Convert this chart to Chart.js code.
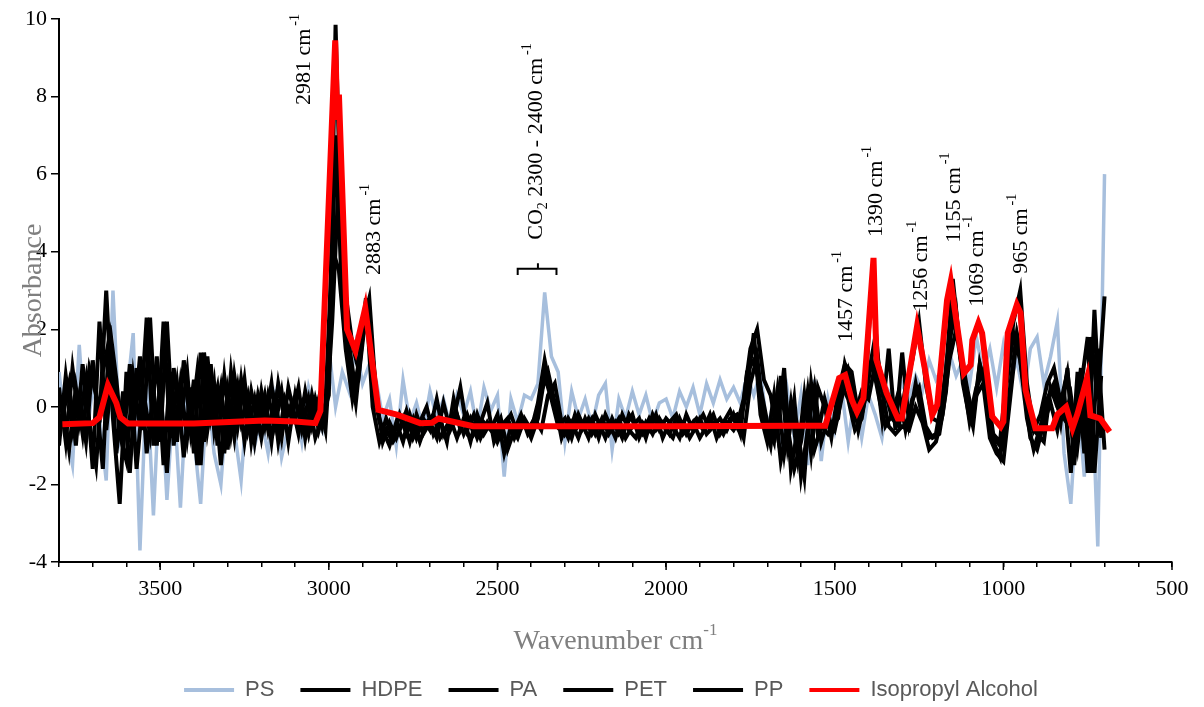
<!DOCTYPE html>
<html>
<head>
<meta charset="utf-8">
<script src="https://cdn.jsdelivr.net/npm/chart.js@4.4.0/dist/chart.umd.min.js"></script>
<style>
  html, body { margin: 0; padding: 0; background: #fff; }
</style>
</head>
<body>
<canvas id="ftirChart" width="1204" height="707"></canvas>
<script>
// wavenumber grids (cm-1)
const wavenumbersA = [
  3800, 3780, 3760, 3740, 3720, 3700, 3680, 3660, 3640, 3620,
  3600, 3580, 3560, 3540, 3520, 3500, 3480, 3460, 3440, 3420,
  3400, 3380, 3360, 3340, 3320, 3300, 3280, 3260, 3240, 3220,
  3200, 3180, 3160, 3140, 3120, 3100, 3080, 3060, 3040, 3020,
  3000, 2980, 2960, 2940, 2920, 2900, 2880, 2860, 2840, 2820,
  2800, 2780, 2760, 2740, 2720, 2700, 2680, 2660, 2640, 2620,
  2600, 2580, 2560, 2540, 2520, 2500, 2480, 2460, 2440, 2420,
  2400, 2380, 2360, 2340, 2320, 2300, 2280, 2260, 2240, 2220,
  2200, 2180, 2160, 2140, 2120, 2100, 2080, 2060, 2040, 2020,
  2000, 1980, 1960, 1940, 1920, 1900, 1880, 1860, 1840, 1820,
  1800, 1780, 1760, 1740, 1720, 1700, 1680, 1660, 1640, 1620,
  1600, 1580, 1560, 1540, 1520, 1500, 1480, 1460, 1440, 1420,
  1400, 1380, 1360, 1340, 1320, 1300, 1280, 1260, 1240, 1220,
  1200, 1180, 1160, 1140, 1120, 1100, 1080, 1060, 1040, 1020,
  1000, 980, 960, 940, 920, 900, 880, 860, 840, 820,
  800, 780, 760, 740, 720, 700
];
const wavenumbersB = [
  3790, 3770, 3750, 3730, 3710, 3690, 3670, 3650, 3630, 3610,
  3590, 3570, 3550, 3530, 3510, 3490, 3470, 3450, 3430, 3410,
  3390, 3370, 3350, 3330, 3310, 3290, 3270, 3250, 3230, 3210,
  3190, 3170, 3150, 3130, 3110, 3090, 3070, 3050, 3030, 3010,
  2990, 2970, 2950, 2930, 2910, 2890, 2870, 2850, 2830, 2810,
  2790, 2770, 2750, 2730, 2710, 2690, 2670, 2650, 2630, 2610,
  2590, 2570, 2550, 2530, 2510, 2490, 2470, 2450, 2430, 2410,
  2390, 2370, 2350, 2330, 2310, 2290, 2270, 2250, 2230, 2210,
  2190, 2170, 2150, 2130, 2110, 2090, 2070, 2050, 2030, 2010,
  1990, 1970, 1950, 1930, 1910, 1890, 1870, 1850, 1830, 1810,
  1790, 1770, 1750, 1730, 1710, 1690, 1670, 1650, 1630, 1610,
  1590, 1570, 1550, 1530, 1510, 1490, 1470, 1450, 1430, 1410,
  1390, 1370, 1350, 1330, 1310, 1290, 1270, 1250, 1230, 1210,
  1190, 1170, 1150, 1130, 1110, 1090, 1070, 1050, 1030, 1010,
  990, 970, 950, 930, 910, 890, 870, 850, 830, 810,
  790, 770, 750, 730, 710
];

// absorbance, grid A
const psAbs = [
  0.9, -0.6, -1.5, 1.6, -0.9, 0.5, -0.3, -1.9, 3.0, -0.8,
  0.2, 1.9, -3.7, 0.8, -2.8, 0.9, -2.4, 0.3, -2.6, 0.6,
  -0.8, -2.5, 0.5, -1.2, -2.0, 0.3, -0.6, -1.9, 0.4, -1.0,
  -0.3, -1.2, 0.2, -1.3, -0.5, 0.1, -0.9, 0.5, -0.2, -0.6,
  1.5, 0.0, 0.9, 0.4, 1.6, 0.6, 1.1, 0.7, -0.3, 0.2,
  -1.0, 0.7, -0.4, 0.1, -0.6, 0.4, -0.3, 0.2, -0.5, 0.3,
  -0.2, 0.4, -0.6, 0.5, -0.1, 0.3, -1.8, 0.2, -0.4, 0.3,
  0.2, 0.6, 2.95, 1.3, 0.9, -0.9, 0.4, -0.3, 0.2, -0.5,
  0.3, 0.6, -1.1, 0.2, -0.3, 0.4, -0.2, 0.3, -0.4, 0.1,
  0.2, -0.3, 0.4, 0.0, 0.5, -0.2, 0.6, 0.1, 0.7, 0.2,
  0.5, 0.1, 0.8, 0.3, 0.9, -0.6, 0.2, -1.2, 0.4, -0.8,
  0.3, -1.5, 0.7, -1.4, 0.2, -0.6, 0.5, -0.9, 0.3, -0.8,
  0.3, -0.2, -0.8, 0.4, 0.1, 0.6, 0.2, 0.8, 0.4, 1.2,
  0.7, 1.0, 1.4, 0.8, 1.2, 0.6, 1.8, 0.9, 1.5, 0.5,
  1.6, 0.7, 1.2, 0.3, 1.5, 1.8, 0.6, 1.3, 2.2, -1.2,
  -2.5, 0.3, -1.8, 1.2, -3.6, 6.0
];
const hdpeAbs = [
  -1.0, 0.8, -0.6, 0.3, -0.9, 1.2, -0.4, 3.0, -0.3, -2.5,
  0.9, -0.7, 1.3, -1.2, 0.4, -0.9, 2.2, -1.0, 0.6, -0.8,
  0.7, -1.5, 1.3, -0.6, 0.5, -1.1, 0.8, -0.4, 0.3, -0.9,
  0.4, -0.6, 0.2, -0.8, 0.5, -0.3, 0.1, -0.7, 0.2, -0.5,
  0.6, 9.85, 3.4, 1.6, 0.4, 2.1, 2.8, 0.3, -0.9, -0.4,
  -0.8, -0.3, -0.9, -0.2, -0.7, -0.4, -0.8, 0.1, -0.6, -0.2,
  -0.7, -0.3, -0.8, -0.4, -0.6, -0.2, -1.2, -0.5, -0.8, -0.3,
  -0.6, 0.1, 1.2, 0.3, -0.2, -0.7, -0.4, -0.8, -0.3, -0.7,
  -0.4, -0.8, -0.3, -0.7, -0.5, -0.2, -0.8, -0.4, -0.7, -0.3,
  -0.6, -0.8, -0.3, -0.7, -0.4, -0.8, -0.5, -0.2, -0.7, -0.4,
  -0.6, -0.3, 0.4, 1.9, -0.2, -0.9, 0.3, -1.4, -0.5, -1.6,
  -0.9, 0.4, -1.1, -0.5, -0.7, -0.4, 0.6, 0.2, -0.6, -0.3,
  0.8, 1.8, 0.4, -0.5, -0.7, -0.5, -0.6, 0.0, -0.4, -1.1,
  -0.9, -0.2, 1.2, 2.0, 0.8, -0.4, 0.3, 0.6, -0.8, -1.2,
  -1.4, 0.2, 1.8, 0.6, -0.8, -1.1, -0.4, 0.1, -0.6, 0.4,
  -1.7, 0.9, -1.2, 1.8, 0.2, 2.85
];
const petAbs = [
  0.5, -0.9, 1.0, -0.4, 0.7, -1.6, 2.2, -0.6, 1.1, -0.7,
  -1.4, 0.8, -0.5, 2.3, -1.0, 0.5, -1.7, 1.0, -0.4, 0.9,
  -1.2, 1.4, -0.6, 0.6, -1.5, 0.4, -0.8, 0.7, -0.6, 0.2,
  -0.8, 0.3, -0.5, 0.4, -0.9, 0.3, -0.6, 0.2, -0.8, -0.3,
  0.3, 7.0, 2.7, 1.2, 0.1, 1.8, 2.5, 0.0, -0.6, -1.0,
  -0.4, -0.9, -0.2, -0.8, -0.3, -0.6, 0.2, -0.7, -0.3, -0.8,
  -0.3, -0.9, -0.2, -0.7, -0.4, -0.9, -0.5, -0.2, -0.7, -0.4,
  -0.8, -0.3, 0.8, 0.2, -0.5, -0.3, -0.8, -0.2, -0.6, -0.3,
  -0.8, -0.2, -0.6, -0.3, -0.8, -0.5, -0.3, -0.8, -0.2, -0.6,
  -0.3, -0.5, -0.8, -0.2, -0.6, -0.3, -0.7, -0.5, -0.3, -0.6,
  -0.2, -0.7, 0.9, 1.2, 0.5, -0.4, -0.9, 0.8, -1.0, 0.2,
  -1.8, -0.6, 0.5, -0.9, -0.3, -0.6, 0.2, 0.9, -0.2, 0.4,
  0.2, 1.1, -0.3, 1.5, -0.6, 1.4, -0.4, 0.6, -0.3, -0.8,
  -0.7, 0.3, 1.7, 2.5, 0.6, -0.3, 0.5, 0.9, -0.6, -0.9,
  -1.1, 0.5, 1.9, 1.1, -0.5, -0.7, -0.9, 0.5, 0.0, -0.3,
  0.3, -1.0, 0.6, -1.7, 1.5, -1.1
];

// absorbance, grid B
const paAbs = [
  -0.3, 0.6, -1.0, 1.1, -0.4, -1.5, 0.9, 1.8, -1.2, 0.4,
  -1.7, 1.0, -0.6, 2.3, -1.0, 2.2, -0.8, 0.6, -1.3, 0.5,
  -1.5, 1.4, -0.3, 0.5, -1.2, 0.9, -0.5, 0.7, -0.9, 0.3,
  -0.5, 0.6, -0.9, 0.2, -0.3, 0.5, -0.8, 0.3, -0.6, 0.1,
  4.1, 3.5, 1.5, 0.2, 1.2, 2.8, 0.0, -0.9, -0.3, -0.8,
  -0.2, -0.7, -0.3, -0.9, -0.4, -0.2, -0.8, -0.5, -0.3, 0.5,
  -0.6, -0.2, -0.8, -0.4, -0.7, -0.3, -1.1, -0.6, -0.2, -0.7,
  -0.4, 0.4, 0.9, 0.1, -0.8, -0.3, -0.6, -0.4, -0.8, -0.2,
  -0.6, -0.4, -0.8, -0.2, -0.6, -0.8, -0.4, -0.6, -0.2, -0.8,
  -0.4, -0.2, -0.7, -0.5, -0.3, -0.6, -0.2, -0.8, -0.4, -0.1,
  -0.5, 0.2, 1.5, 2.0, 0.7, 0.3, -0.7, 1.0, -1.6, -0.6,
  -1.8, 0.6, -0.7, 0.2, -0.5, -0.3, 1.1, 0.5, -0.6, 0.2,
  1.2, 0.3, -0.5, -0.2, 0.4, -0.6, 0.2, 0.5, -0.5, -0.8,
  -0.7, 0.4, 2.6, 1.5, 0.2, -0.5, 1.1, 0.3, -0.9, -1.3,
  0.6, 1.9, 1.2, -0.3, -1.1, -0.5, 0.2, 0.6, -0.4, 1.0,
  -1.5, 0.5, 1.8, -1.7, 0.8
];
const ppAbs = [
  0.2, -1.1, 0.5, -0.7, 1.0, 0.3, -1.6, 2.1, 0.7, -1.1,
  1.1, -1.6, 0.4, -0.7, 1.3, -1.5, 0.9, -0.9, 1.2, -0.6,
  0.9, -0.9, 1.1, -1.0, 0.8, -0.7, 0.5, -0.9, 0.4, -0.5,
  0.3, -0.9, 0.6, -0.4, 0.1, -0.7, 0.4, -0.5, 0.2, -0.6,
  2.2, 6.0, 2.9, 1.6, 0.9, 2.4, 1.3, -0.4, -0.6, -0.9,
  -0.6, -0.1, -0.8, -0.4, 0.0, -0.7, -0.3, -0.9, 0.2, -0.6,
  -0.2, -0.7, -0.4, 0.1, -0.9, -0.5, -0.3, -0.8, -0.4, -0.6,
  -0.3, -0.6, 0.3, 0.6, -0.4, -0.8, -0.2, -0.6, -0.3, -0.7,
  -0.3, -0.7, -0.4, -0.8, -0.2, -0.5, -0.7, -0.3, -0.6, -0.4,
  -0.7, -0.3, -0.4, -0.8, -0.5, -0.2, -0.6, -0.4, -0.7, -0.3,
  -0.2, -0.8, 0.6, 1.3, -0.3, -1.0, 0.4, -1.2, 0.1, -1.3,
  0.3, -1.2, 0.5, 0.0, -0.8, 0.4, 1.1, 0.9, -0.2, 0.3,
  3.2, 1.1, 0.4, -0.3, -0.5, 0.5, 1.2, 2.2, 0.6, -0.3,
  -0.4, 0.9, 3.3, 1.6, 0.6, -0.3, 1.1, 0.5, -0.7, -0.9,
  0.8, 2.2, 3.0, 0.6, -0.6, -0.2, 0.6, 1.0, 0.1, 0.9,
  -0.6, 1.0, -1.7, 2.5, -0.8
];

// isopropyl alcohol
const ipaWavenumbers = [
  3790, 3700, 3680, 3655, 3630, 3618, 3595, 3400, 3190, 3100,
  3040, 3025, 2981, 2975, 2970, 2946, 2921, 2892, 2872, 2853,
  2798, 2729, 2694, 2675, 2572, 2000, 1600, 1528, 1487, 1469,
  1449, 1434, 1415, 1401, 1385, 1376, 1346, 1313, 1301, 1256,
  1231, 1211, 1196, 1167, 1156, 1117, 1097, 1092, 1074, 1063,
  1033, 1008, 1000, 987, 960, 949, 934, 905, 855, 840,
  814, 795, 780, 752, 742, 713, 685
];
const ipaAbs = [
  -0.45, -0.42, -0.27, 0.56, 0.1, -0.27, -0.43, -0.43, -0.35, -0.38,
  -0.42, -0.1, 9.45, 7.4, 8.05, 2.0, 1.45, 2.55, 1.2, -0.08,
  -0.2, -0.42, -0.41, -0.3, -0.5, -0.5, -0.49, -0.49, 0.74, 0.82,
  0.17, -0.13, 0.22, 1.9, 3.84, 1.2, 0.35, -0.3, -0.3, 2.07,
  0.9, -0.21, 0.05, 2.75, 3.23, 0.87, 1.08, 1.72, 2.16, 1.9,
  -0.25, -0.51, -0.38, 1.9, 2.63, 2.42, 0.43, -0.55, -0.55, -0.2,
  0.0, -0.55, -0.17, 0.74, -0.22, -0.3, -0.64
];

const seriesNames = ['PS', 'HDPE', 'PA', 'PET', 'PP', 'Isopropyl Alcohol'];
const xTickLabels = [3500, 3000, 2500, 2000, 1500, 1000, 500];

// peak annotations: text parts, anchored at a wavenumber / absorbance
const peakLabelParts = [
  [{ t: '2981 cm' }, { t: '-1', sup: true }],
  [{ t: '2883 cm' }, { t: '-1', sup: true }],
  [{ t: 'CO' }, { t: '2', sub: true }, { t: ' 2300 - 2400 cm' }, { t: '-1', sup: true }],
  [{ t: '1457 cm' }, { t: '-1', sup: true }],
  [{ t: '1390 cm' }, { t: '-1', sup: true }],
  [{ t: '1256 cm' }, { t: '-1', sup: true }],
  [{ t: '1155 cm' }, { t: '-1', sup: true }],
  [{ t: '1069 cm' }, { t: '-1', sup: true }],
  [{ t: '965 cm' }, { t: '-1', sup: true }]
];
const peakLabelWn = [3055, 2847, 2367, 1448, 1359, 1226, 1128, 1060, 929];
const peakLabelAbs = [7.78, 3.40, 4.31, 1.67, 4.38, 2.45, 4.23, 2.58, 3.43];

const SERIF = '"Liberation Serif", "Times New Roman", serif';
const SANS = '"Liberation Sans Narrow", "Arial Narrow", "Liberation Sans", sans-serif';

function toPoints(xs, ys) {
  return ys.map((v, i) => ({ x: xs[i], y: v }));
}

function drawRotated(ctx, px, py, parts) {
  ctx.save();
  ctx.translate(px, py);
  ctx.rotate(-Math.PI / 2);
  ctx.textAlign = 'left';
  ctx.textBaseline = 'alphabetic';
  let cx = 0;
  parts.forEach(p => {
    const small = p.sup || p.sub;
    ctx.font = (small ? 14 : 22) + 'px ' + SERIF;
    const dy = p.sup ? -11 : (p.sub ? 5 : 0);
    ctx.fillText(p.t, cx + (p.sup ? 3 : 0), dy);
    cx += ctx.measureText(p.t).width;
  });
  ctx.restore();
}

const extrasPlugin = {
  id: 'extras',
  afterLayout(chart) {
    // legend sits a bit lower and further right in the original
    chart.legend.top += 4;
    chart.legend.bottom += 4;
    chart.legend.left += 25;
    chart.legend.right += 25;
  },
  afterDraw(chart) {
    const { ctx, chartArea, scales: { x, y } } = chart;
    ctx.save();
    ctx.fillStyle = '#000';

    // longer ticks at labelled wavenumbers
    ctx.strokeStyle = '#000';
    ctx.lineWidth = 1.5;
    xTickLabels.forEach(v => {
      const px = x.getPixelForValue(v);
      ctx.beginPath();
      ctx.moveTo(px, chartArea.bottom);
      ctx.lineTo(px, chartArea.bottom + 8);
      ctx.stroke();
    });

    // peak labels
    peakLabelParts.forEach((parts, i) => {
      drawRotated(ctx, x.getPixelForValue(peakLabelWn[i]), y.getPixelForValue(peakLabelAbs[i]), parts);
    });

    // CO2 bracket
    const bl = x.getPixelForValue(2440), br = x.getPixelForValue(2325), bm = x.getPixelForValue(2380);
    const bt = y.getPixelForValue(3.56), bb = y.getPixelForValue(3.4), bk = y.getPixelForValue(3.7);
    ctx.lineWidth = 2;
    ctx.beginPath();
    ctx.moveTo(bl, bb); ctx.lineTo(bl, bt); ctx.lineTo(br, bt); ctx.lineTo(br, bb);
    ctx.moveTo(bm, bt); ctx.lineTo(bm, bk);
    ctx.stroke();

    // axis titles
    ctx.fillStyle = '#7f7f7f';
    ctx.font = '28px ' + SERIF;
    ctx.save();
    ctx.translate(34, (chartArea.top + chartArea.bottom) / 2);
    ctx.rotate(-Math.PI / 2);
    ctx.textAlign = 'center';
    ctx.fillText('Absorbance', 0, 0);
    ctx.restore();

    const main = 'Wavenumber cm';
    const w1 = ctx.measureText(main).width;
    ctx.font = '17px ' + SERIF;
    const w2 = ctx.measureText('-1').width;
    const startX = (chartArea.left + chartArea.right) / 2 - (w1 + w2) / 2;
    ctx.font = '28px ' + SERIF;
    ctx.textAlign = 'left';
    ctx.fillText(main, startX, 642);
    ctx.font = '17px ' + SERIF;
    ctx.fillText('-1', startX + w1, 631);
    ctx.restore();
  }
};

const colors = ['#a7bfdd', '#000000', '#000000', '#000000', '#000000', '#ff0000'];
const widths = [3.5, 4, 4, 4, 4, 6];
const pointSets = [
  toPoints(wavenumbersA, psAbs),
  toPoints(wavenumbersA, hdpeAbs),
  toPoints(wavenumbersB, paAbs),
  toPoints(wavenumbersA, petAbs),
  toPoints(wavenumbersB, ppAbs),
  toPoints(ipaWavenumbers, ipaAbs)
];

const ctx = document.getElementById('ftirChart').getContext('2d');

new Chart(ctx, {
  type: 'scatter',
  data: {
    datasets: seriesNames.map((name, i) => ({
      label: name,
      data: pointSets[i],
      showLine: true,
      borderColor: colors[i],
      backgroundColor: colors[i],
      borderWidth: widths[i],
      pointRadius: 0,
      tension: 0,
      order: seriesNames.length - i
    }))
  },
  options: {
    responsive: false,
    animation: false,
    layout: { padding: { top: 19, right: 32, left: 0, bottom: 0 } },
    plugins: {
      tooltip: { enabled: false },
      legend: {
        position: 'bottom',
        labels: {
          boxWidth: 50,
          boxHeight: 4,
          padding: 26,
          color: '#595959',
          font: { family: SANS, size: 22 },
          sort: (a, b) => a.datasetIndex - b.datasetIndex,
          generateLabels(chart) {
            const items = Chart.defaults.plugins.legend.labels.generateLabels(chart);
            items.forEach(it => { it.lineWidth = 0; });
            return items;
          }
        }
      }
    },
    scales: {
      x: {
        type: 'linear',
        position: 'bottom',
        reverse: true,
        min: 500,
        max: 3800,
        afterFit(s) { s.height = 87; },
        border: { color: '#000', width: 2 },
        grid: { drawOnChartArea: false, color: '#000', lineWidth: 1.5, tickLength: 5 },
        ticks: {
          stepSize: 100,
          autoSkip: false,
          maxRotation: 0,
          padding: 9,
          color: '#000',
          font: { family: SERIF, size: 22 },
          callback: v => (xTickLabels.includes(v) ? String(v) : '')
        }
      },
      y: {
        min: -4,
        max: 10,
        afterFit(s) { s.width = 59; },
        border: { color: '#000', width: 2 },
        grid: { drawOnChartArea: false, color: '#000', lineWidth: 1.5, tickLength: 8 },
        ticks: {
          stepSize: 2,
          padding: 4,
          color: '#000',
          font: { family: SERIF, size: 22 }
        }
      }
    }
  },
  plugins: [extrasPlugin]
});
</script>
</body>
</html>
